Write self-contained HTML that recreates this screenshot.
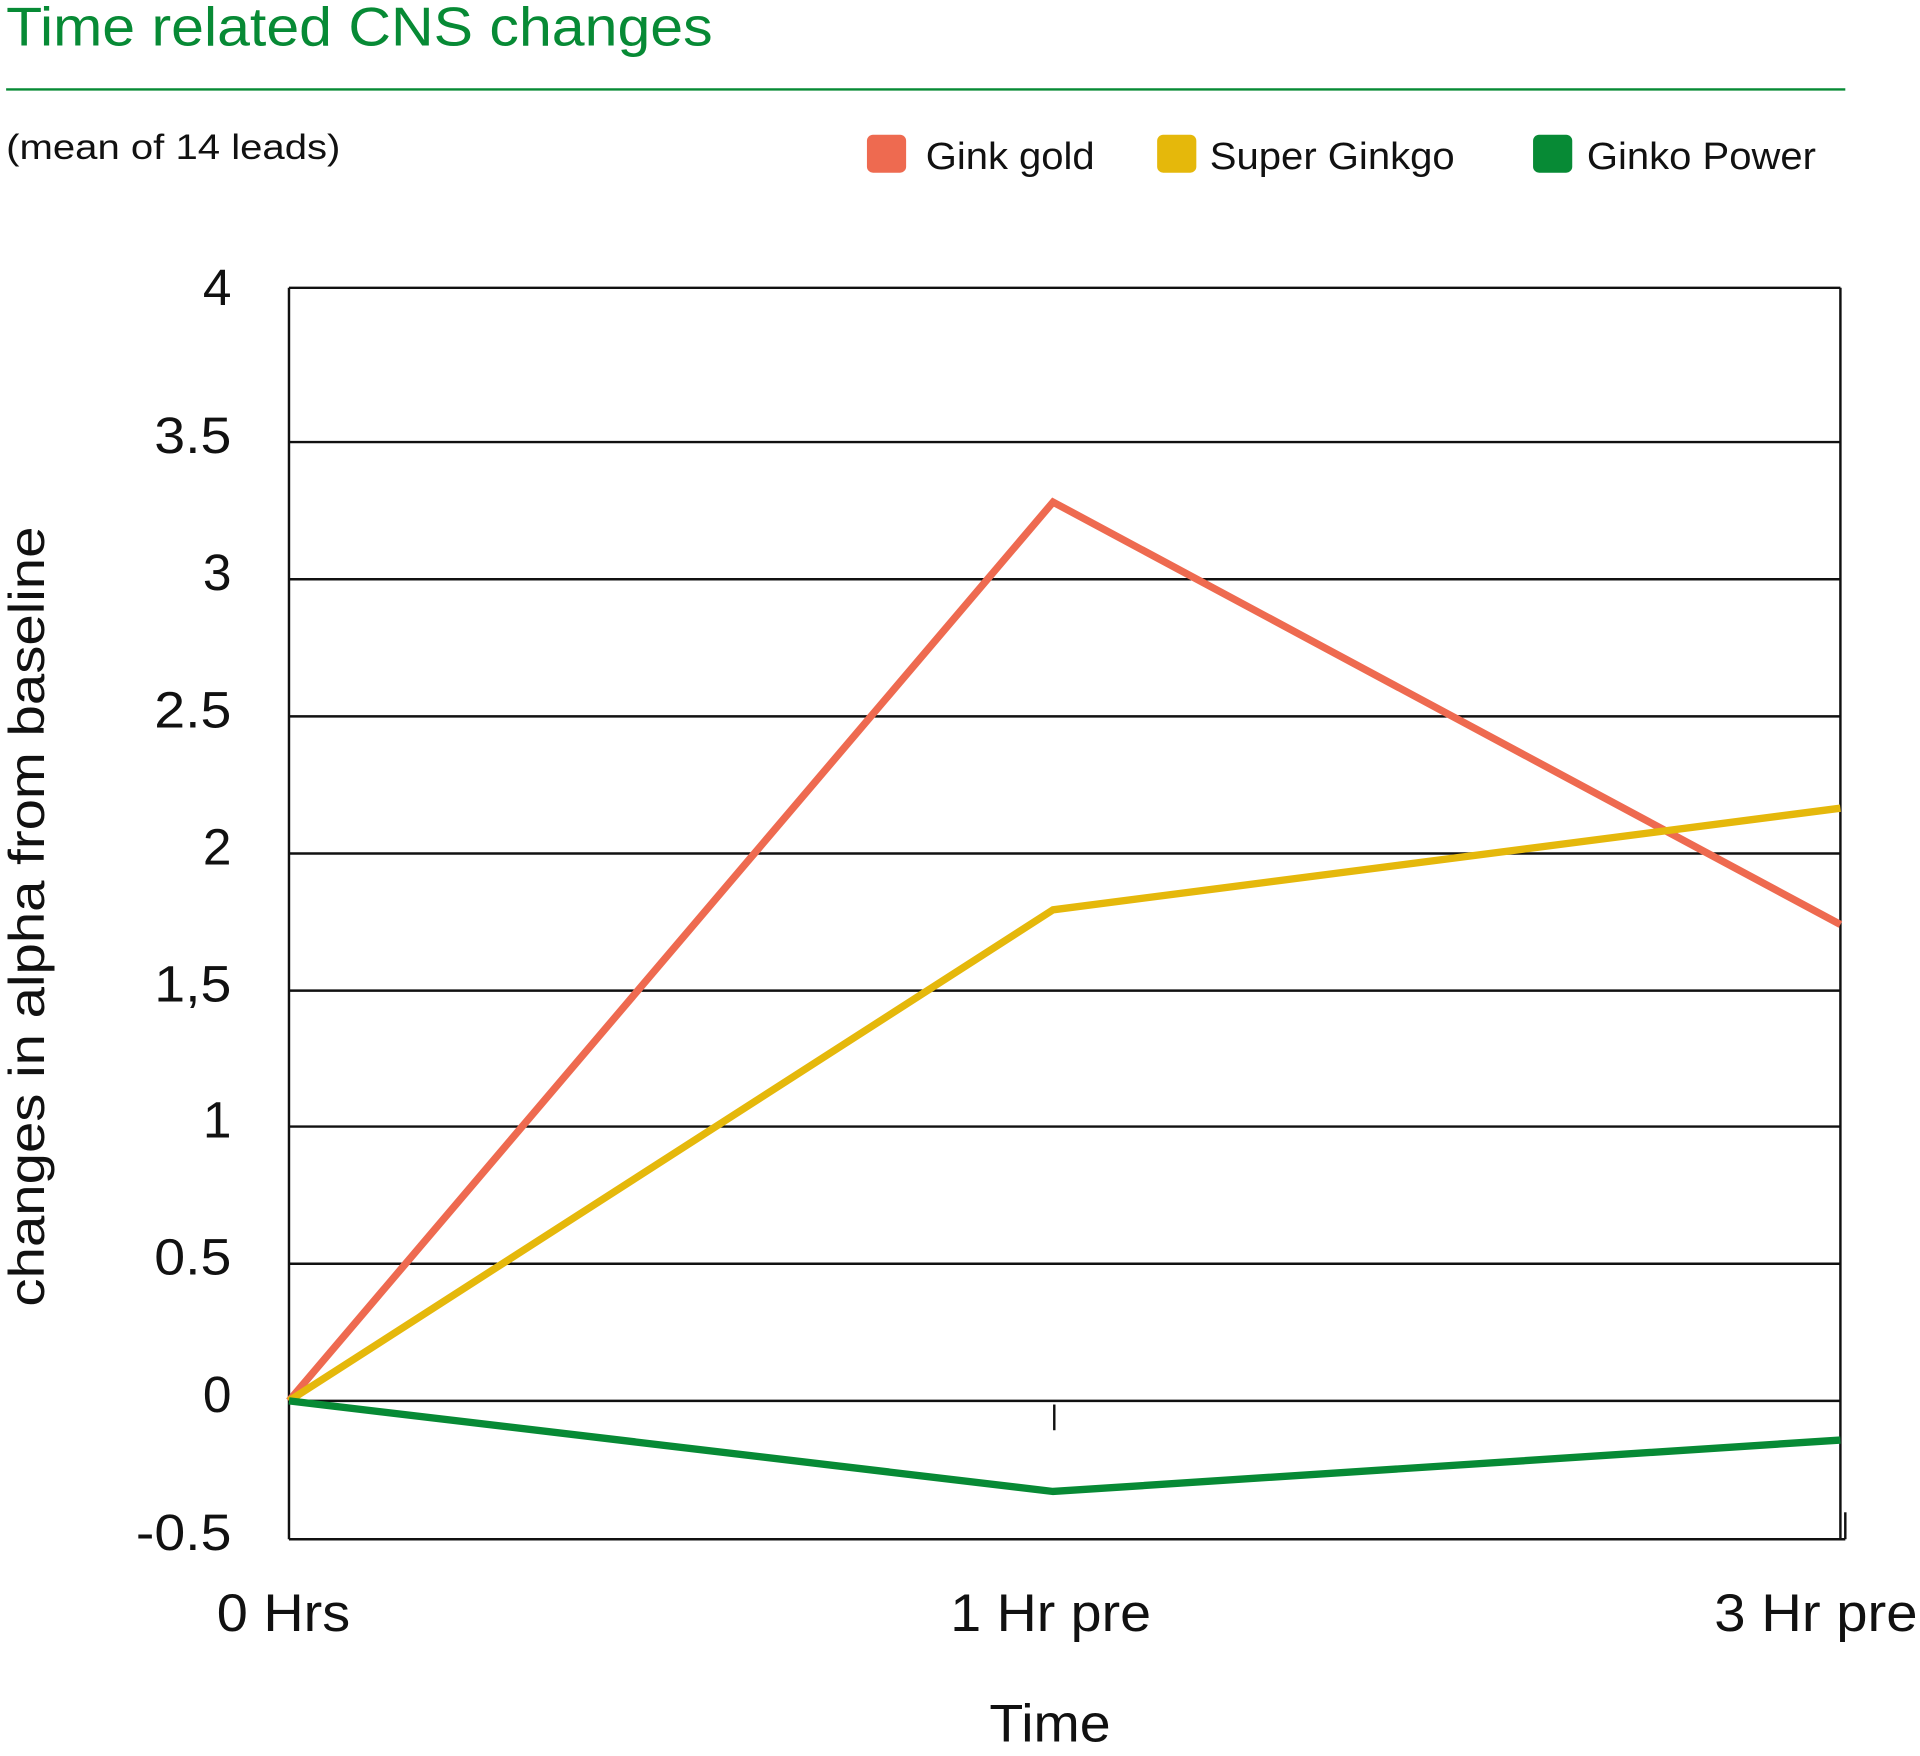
<!DOCTYPE html>
<html><head><meta charset="utf-8"><style>
html,body{margin:0;padding:0;background:#fff;}
svg{display:block;}
text{font-family:"Liberation Sans",Arial,sans-serif;}
</style></head><body>
<svg width="1920" height="1756" viewBox="0 0 1568 1434" xmlns="http://www.w3.org/2000/svg">
<text x="5" y="37" font-size="45" fill="#078a35" textLength="577" lengthAdjust="spacingAndGlyphs">Time related CNS changes</text>
<line x1="5" y1="73" x2="1507" y2="73" stroke="#078a35" stroke-width="2"/>
<text x="5" y="130" font-size="29" fill="#111" textLength="273" lengthAdjust="spacingAndGlyphs">(mean of 14 leads)</text>
<rect x="708" y="110" width="32" height="31" rx="5" fill="#ee6a50"/>
<text x="756" y="138" font-size="31" fill="#111" textLength="138" lengthAdjust="spacingAndGlyphs">Gink gold</text>
<rect x="945" y="110" width="32" height="31" rx="5" fill="#e5b80b"/>
<text x="988" y="138" font-size="31" fill="#111" textLength="200" lengthAdjust="spacingAndGlyphs">Super Ginkgo</text>
<rect x="1252" y="110" width="32" height="31" rx="5" fill="#078a35"/>
<text x="1296" y="138" font-size="31" fill="#111" textLength="187" lengthAdjust="spacingAndGlyphs">Ginko Power</text>
<g stroke="#111" stroke-width="2">
<line x1="236" y1="235" x2="1503" y2="235"/>
<line x1="236" y1="361" x2="1503" y2="361"/>
<line x1="236" y1="473" x2="1503" y2="473"/>
<line x1="236" y1="585" x2="1503" y2="585"/>
<line x1="236" y1="697" x2="1503" y2="697"/>
<line x1="236" y1="809" x2="1503" y2="809"/>
<line x1="236" y1="920" x2="1503" y2="920"/>
<line x1="236" y1="1032" x2="1503" y2="1032"/>
<line x1="236" y1="1144" x2="1503" y2="1144"/>
<line x1="236" y1="1257" x2="1507" y2="1257"/>
<line x1="236" y1="235" x2="236" y2="1257"/>
<line x1="1503" y1="235" x2="1503" y2="1257"/>
<line x1="1507" y1="1235" x2="1507" y2="1257"/>
<line x1="861" y1="1147" x2="861" y2="1168"/>
</g>
<g font-size="42" fill="#111" text-anchor="end">
<text x="189" y="249">4</text>
<text x="189" y="370" textLength="63" lengthAdjust="spacingAndGlyphs">3.5</text>
<text x="189" y="482">3</text>
<text x="189" y="594" textLength="63" lengthAdjust="spacingAndGlyphs">2.5</text>
<text x="189" y="706">2</text>
<text x="189" y="818" textLength="63" lengthAdjust="spacingAndGlyphs">1,5</text>
<text x="189" y="929">1</text>
<text x="189" y="1041" textLength="63" lengthAdjust="spacingAndGlyphs">0.5</text>
<text x="189" y="1153">0</text>
<text x="189" y="1266" textLength="78" lengthAdjust="spacingAndGlyphs">-0.5</text>
</g>
<g font-size="43" fill="#111">
<text x="177" y="1332" textLength="109" lengthAdjust="spacingAndGlyphs">0 Hrs</text>
<text x="776" y="1332" textLength="164" lengthAdjust="spacingAndGlyphs">1 Hr pre</text>
<text x="1400" y="1332" textLength="166" lengthAdjust="spacingAndGlyphs">3 Hr pre</text>
<text x="808" y="1422" textLength="99" lengthAdjust="spacingAndGlyphs">Time</text>
</g>
<text transform="translate(36,1067) rotate(-90)" font-size="41" fill="#111" textLength="637" lengthAdjust="spacingAndGlyphs">changes in alpha from baseline</text>
<g fill="none" stroke-width="6" stroke-linejoin="miter">
<polyline points="236,1144 860,410 1503,755" stroke="#ee6a50"/>
<polyline points="236,1144 860,743 1503,660" stroke="#e5b80b"/>
<polyline points="236,1144 860,1218 1503,1176" stroke="#078a35"/>
</g>
</svg>
</body></html>
